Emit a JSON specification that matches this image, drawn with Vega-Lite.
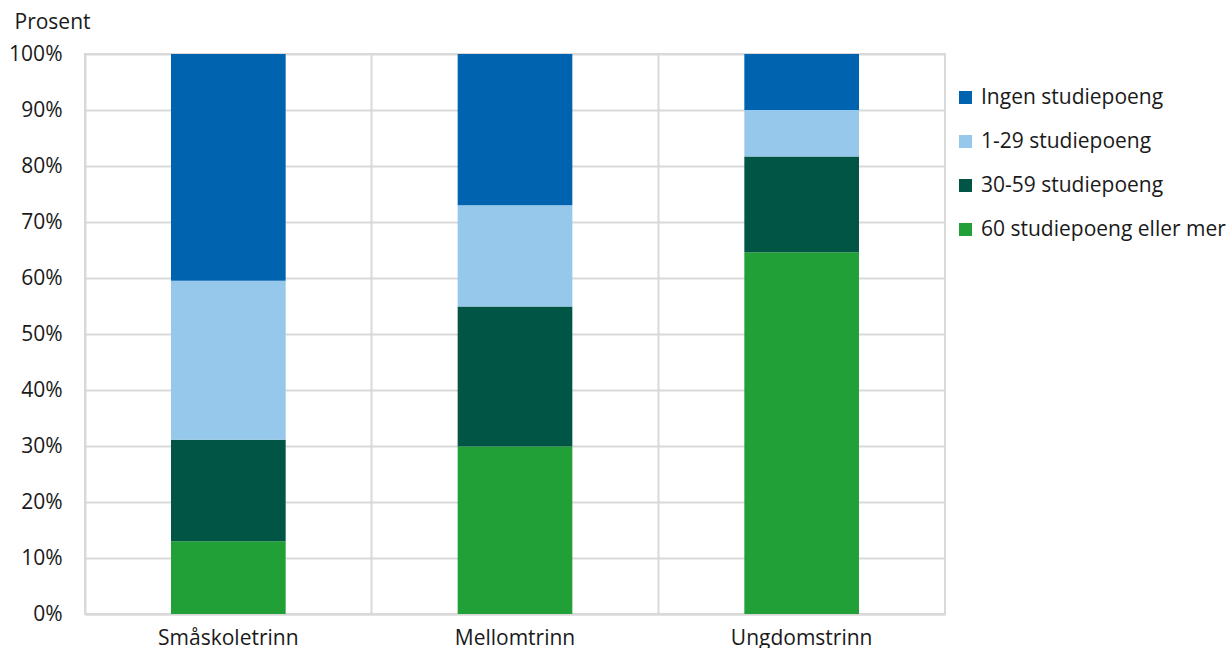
{
  "$schema": "https://vega.github.io/schema/vega-lite/v6.json",
  "width": 860,
  "height": 560,
  "autosize": {"type": "none"},
  "padding": {"left": 85, "top": 54, "right": 286, "bottom": 34},
  "background": "white",
  "config": {
    "font": "Open Sans",
    "view": {"stroke": "#d9d9d9", "strokeWidth": 2},
    "axis": {"labelFont": "Open Sans", "titleFont": "Open Sans", "labelColor": "#1a1a1a", "titleColor": "#1a1a1a"}
  },
  "data": {
    "values": [
      {"trinn": "Småskoletrinn", "gruppe": "60 studiepoeng eller mer", "rank": 1, "andel": 13.0},
      {"trinn": "Småskoletrinn", "gruppe": "30-59 studiepoeng", "rank": 2, "andel": 18.1},
      {"trinn": "Småskoletrinn", "gruppe": "1-29 studiepoeng", "rank": 3, "andel": 28.4},
      {"trinn": "Småskoletrinn", "gruppe": "Ingen studiepoeng", "rank": 4, "andel": 40.5},
      {"trinn": "Mellomtrinn", "gruppe": "60 studiepoeng eller mer", "rank": 1, "andel": 29.9},
      {"trinn": "Mellomtrinn", "gruppe": "30-59 studiepoeng", "rank": 2, "andel": 25.0},
      {"trinn": "Mellomtrinn", "gruppe": "1-29 studiepoeng", "rank": 3, "andel": 18.1},
      {"trinn": "Mellomtrinn", "gruppe": "Ingen studiepoeng", "rank": 4, "andel": 27.0},
      {"trinn": "Ungdomstrinn", "gruppe": "60 studiepoeng eller mer", "rank": 1, "andel": 64.6},
      {"trinn": "Ungdomstrinn", "gruppe": "30-59 studiepoeng", "rank": 2, "andel": 17.1},
      {"trinn": "Ungdomstrinn", "gruppe": "1-29 studiepoeng", "rank": 3, "andel": 8.3},
      {"trinn": "Ungdomstrinn", "gruppe": "Ingen studiepoeng", "rank": 4, "andel": 10.0}
    ]
  },
  "mark": {"type": "bar", "width": {"band": 0.4}},
  "encoding": {
    "x": {
      "field": "trinn",
      "type": "nominal",
      "sort": ["Småskoletrinn", "Mellomtrinn", "Ungdomstrinn"],
      "scale": {"paddingInner": 0, "paddingOuter": 0},
      "axis": {
        "title": null,
        "labelAngle": 0,
        "labelFontSize": 21,
        "labelPadding": 13,
        "ticks": false,
        "domain": true,
        "domainColor": "#d9d9d9",
        "domainWidth": 2,
        "grid": true,
        "bandPosition": 0,
        "gridColor": "#d9d9d9",
        "gridWidth": 2
      }
    },
    "y": {
      "field": "andel",
      "type": "quantitative",
      "stack": "zero",
      "scale": {"domain": [0, 100], "nice": false},
      "axis": {
        "values": [0, 10, 20, 30, 40, 50, 60, 70, 80, 90, 100],
        "labelExpr": "datum.value + '%'",
        "labelFontSize": 21,
        "labelPadding": 23,
        "ticks": false,
        "domain": false,
        "grid": true,
        "gridColor": "#d9d9d9",
        "gridWidth": 2,
        "title": "Prosent",
        "titleAngle": 0,
        "titleFontSize": 21,
        "titleFontWeight": "normal",
        "titleAlign": "left",
        "titleBaseline": "middle",
        "titleX": -71,
        "titleY": -32
      }
    },
    "color": {
      "field": "gruppe",
      "type": "nominal",
      "scale": {
        "domain": ["Ingen studiepoeng", "1-29 studiepoeng", "30-59 studiepoeng", "60 studiepoeng eller mer"],
        "range": ["#0063B0", "#96C8EC", "#005544", "#21A038"]
      },
      "legend": {
        "title": null,
        "orient": "none",
        "legendX": 870,
        "legendY": 33,
        "symbolType": "square",
        "symbolSize": 169,
        "symbolStrokeWidth": 0,
        "labelFontSize": 21,
        "labelColor": "#1a1a1a",
        "labelOffset": 5,
        "rowPadding": 22,
        "labelLimit": 400
      }
    },
    "order": {"field": "rank", "type": "quantitative", "sort": "ascending"}
  }
}
